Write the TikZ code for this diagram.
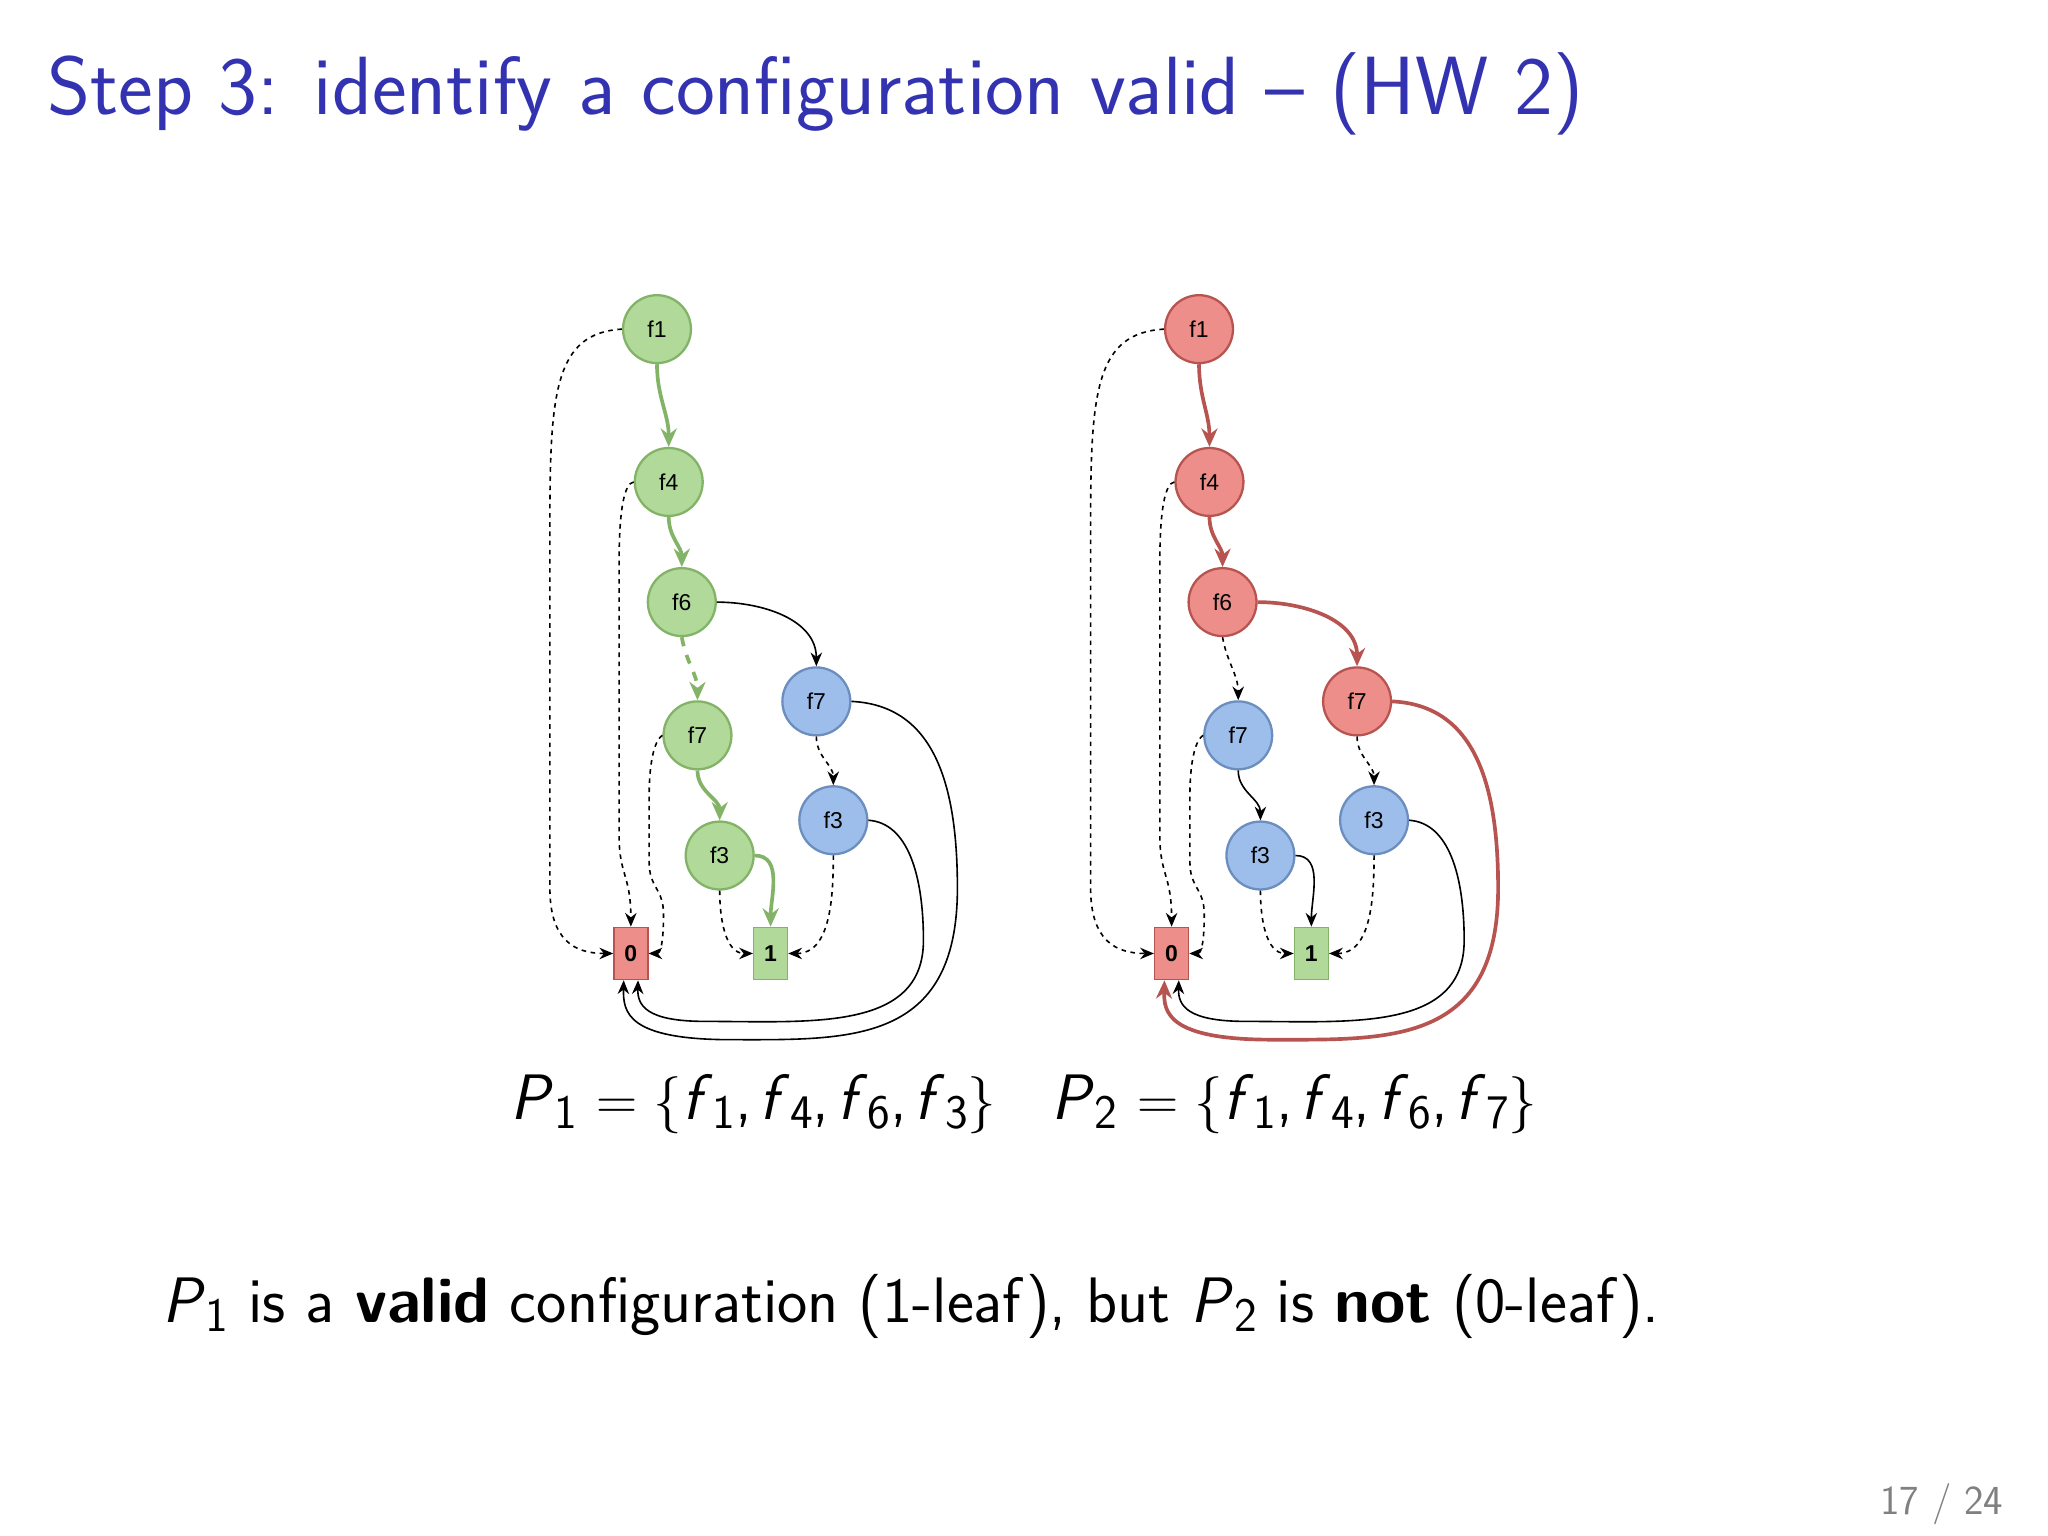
\documentclass[tikz,border=0pt]{standalone}
\usepackage{fontspec}
\newfontfamily\hv{Liberation Sans}
\usetikzlibrary{arrows.meta}
\definecolor{gfill}{HTML}{B0D99A}\definecolor{gdraw}{HTML}{82B366}
\definecolor{rfill}{HTML}{EE8E8B}\definecolor{rdraw}{HTML}{B85450}
\definecolor{bfill}{HTML}{9DBDEB}\definecolor{bdraw}{HTML}{6C8EBF}
\definecolor{titleblue}{rgb}{0.2,0.2,0.7}
\newcommand\sv[2]{\textit{#1}\raisebox{-0.35ex}{\scalebox{0.75}{#2}}}
\newcommand\cm{,\hspace{0.12em}}
\tikzset{
 nd/.style={circle,minimum size=1.04cm,inner sep=0,font=\hv\fontsize{10}{12}\selectfont,draw,line width=1pt},
 gn/.style={nd,fill=gfill,draw=gdraw},
 rn/.style={nd,fill=rfill,draw=rdraw},
 bn/.style={nd,fill=bfill,draw=bdraw},
 leaf/.style={rectangle,minimum width=0.52cm,minimum height=0.8cm,inner sep=0,font=\hv\bfseries\fontsize{10}{12}\selectfont,draw,line width=0.6pt},
 lo/.style={leaf,fill=rfill,draw=rdraw},
 li/.style={leaf,fill=gfill,draw=gdraw},
 hi/.style={-{Stealth[length=6pt,width=5pt]},line width=0.7pt},
 dsh/.style={-{Stealth[length=6pt,width=5pt]},line width=0.7pt,dash pattern=on 2pt off 2pt},
 gp/.style={-{Stealth[length=8pt,width=7pt]},line width=1.6pt,draw=gdraw},
 gpd/.style={gp,dash pattern=on 4pt off 4pt},
 rp/.style={-{Stealth[length=8pt,width=7pt]},line width=1.6pt,draw=rdraw},
 big/.style={font=\sffamily\fontsize{28}{32}\selectfont},
}
\begin{document}
\begin{tikzpicture}[x=0.02cm,y=-0.02cm]
\fill[white] (0,0) rectangle (1568,1176);
\useasboundingbox (0,0) rectangle (1568,1176);
\node[anchor=west,text=titleblue,font=\sffamily\fontsize{36}{40}\selectfont] (title) at (30,72) {Step 3: identify a configuration valid -- (HW 2)};
% left diagram
\node[gn] (L1) at (503,252) {f1};
\node[gn] (L4) at (512,369) {f4};
\node[gn] (L6) at (522,461) {f6};
\node[gn] (L7) at (534,563) {f7};
\node[gn] (L3) at (551,655) {f3};
\node[bn] (B7) at (625,537) {f7};
\node[bn] (B3) at (638,628) {f3};
\node[lo] (L0) at (483,730) {0};
\node[li] (LI) at (590,730) {1};
\draw[gp] (L1.south) to[out=-90,in=90] (L4.north);
\draw[gp] (L4.south) to[out=-90,in=90] (L6.north);
\draw[gpd] (L6.south) to[out=-80,in=90] (L7.north);
\draw[gp] (L7.south) to[out=-90,in=90] (L3.north);
\draw[gp] (L3.east) to[out=0,in=90] (LI.north);
\draw[hi] (L6.east) to[out=0,in=90] (B7.north);
\draw[dsh] (B7.south) to[out=-90,in=90] (B3.north);
\draw[dsh] (B3.south) to[out=-90,in=0] (LI.east);
\draw[dsh] (L3.south) to[out=-90,in=180] (LI.west);
\draw[dsh] (L1.west) .. controls (425,255) and (421,300) .. (421,400) -- (421,680) .. controls (421,720) and (440,730) .. (L0.west);
\draw[dsh] (L4.west) .. controls (478,370) and (474,390) .. (474,430) -- (474,640) .. controls (474,670) and (483,670) .. (L0.north);
\draw[dsh] (L7.west) .. controls (502,566) and (497,580) .. (497,610) -- (497,660) .. controls (497,680) and (508,680) .. (508,700) .. controls (508,725) and (505,730) .. (L0.east);
\draw[hi] (B3.east) .. controls (695,630) and (707,670) .. (707,720) .. controls (707,790) and (620,782) .. (540,782) .. controls (495,782) and (488,770) .. (L0.-75);
\draw[hi] (B7.east) .. controls (715,540) and (733,600) .. (733,680) .. controls (733,800) and (650,796) .. (560,796) .. controls (480,796) and (477,775) .. (L0.-105);
% right diagram
\begin{scope}[shift={(414,0)}]
\node[rn] (R1) at (504,252) {f1};
\node[rn] (R4) at (512,369) {f4};
\node[rn] (R6) at (522,461) {f6};
\node[bn] (RB7) at (534,563) {f7};
\node[bn] (RB3) at (551,655) {f3};
\node[rn] (RR7) at (625,537) {f7};
\node[bn] (RC3) at (638,628) {f3};
\node[lo] (R0) at (483,730) {0};
\node[li] (RI) at (590,730) {1};
\draw[rp] (R1.south) to[out=-90,in=90] (R4.north);
\draw[rp] (R4.south) to[out=-90,in=90] (R6.north);
\draw[dsh] (R6.south) to[out=-80,in=90] (RB7.north);
\draw[hi] (RB7.south) to[out=-90,in=90] (RB3.north);
\draw[hi] (RB3.east) to[out=0,in=90] (RI.north);
\draw[rp] (R6.east) to[out=0,in=90] (RR7.north);
\draw[dsh] (RR7.south) to[out=-90,in=90] (RC3.north);
\draw[dsh] (RC3.south) to[out=-90,in=0] (RI.east);
\draw[dsh] (RB3.south) to[out=-90,in=180] (RI.west);
\draw[dsh] (R1.west) .. controls (425,255) and (421,300) .. (421,400) -- (421,680) .. controls (421,720) and (440,730) .. (R0.west);
\draw[dsh] (R4.west) .. controls (478,370) and (474,390) .. (474,430) -- (474,640) .. controls (474,670) and (483,670) .. (R0.north);
\draw[dsh] (RB7.west) .. controls (502,566) and (497,580) .. (497,610) -- (497,660) .. controls (497,680) and (508,680) .. (508,700) .. controls (508,725) and (505,730) .. (R0.east);
\draw[hi] (RC3.east) .. controls (695,630) and (707,670) .. (707,720) .. controls (707,790) and (620,782) .. (540,782) .. controls (495,782) and (488,770) .. (R0.-75);
\draw[rp] (RR7.east) .. controls (715,540) and (733,600) .. (733,680) .. controls (733,800) and (650,796) .. (560,796) .. controls (480,796) and (477,775) .. (R0.-105);
\end{scope}
\node[big] (p1) at (577,845) {\sv{P}{1} $=\{$\sv{f}{1}\cm\sv{f}{4}\cm\sv{f}{6}\cm\sv{f}{3}$\}$};
\node[big] (p2) at (991,845) {\sv{P}{2} $=\{$\sv{f}{1}\cm\sv{f}{4}\cm\sv{f}{6}\cm\sv{f}{7}$\}$};
\node[big,anchor=west] (conc) at (118,1000) {\sv{P}{1} is a \textbf{valid} configuration (1-leaf), but \sv{P}{2} is \textbf{not} (0-leaf).};
\node[anchor=east,text=gray,font=\sffamily\fontsize{18}{20}\selectfont] (pg) at (1540,1152) {17 / 24};
\end{tikzpicture}
\end{document}
